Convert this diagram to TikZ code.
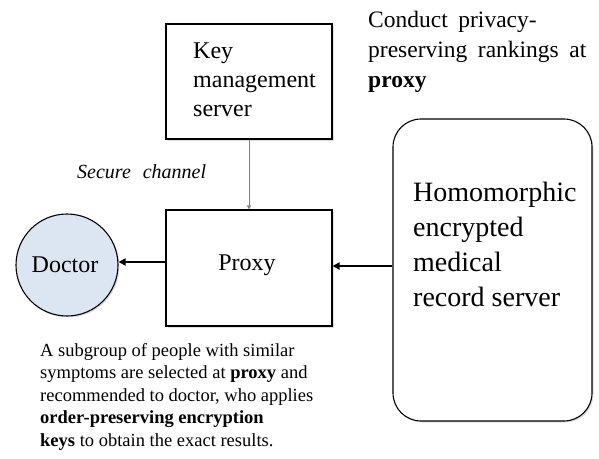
\documentclass[tikz,border=0pt]{standalone}
\usepackage{fontspec}
\setmainfont{Liberation Serif}
\usetikzlibrary{arrows.meta,shadows}
\definecolor{docfill}{HTML}{DCE6F2}
\newcommand{\widespaces}{\spaceskip=0.45em\relax}
\tikzset{
  box/.style={draw=black, line width=1.1pt, fill=white, drop shadow={shadow xshift=1.5pt, shadow yshift=-1.5pt, opacity=0.25}},
  txt/.style={inner sep=0pt, align=left, anchor=north west},
  thickarrow/.style={line width=1.8pt, -{Triangle[length=7pt,width=7pt]}},
  grayarrow/.style={draw=gray, line width=1pt, -{Triangle[length=4pt,width=4pt]}}
}
\begin{document}
\begin{tikzpicture}[x=1pt,y=-1pt]
\useasboundingbox (0,0) rectangle (599,458);
% boxes
\node[box, minimum width=166pt, minimum height=115pt, inner sep=0pt] (kms) at (249,81.5) {};
\node[box, minimum width=166pt, minimum height=116pt, inner sep=0pt] (proxy) at (249,268) {};
\node[box, rounded corners=28pt, minimum width=199pt, minimum height=302pt, inner sep=0pt] (hemr) at (492.5,270) {};
\node[box, circle, fill=docfill, minimum size=102pt, inner sep=0pt] (doctor) at (67,265) {};
% texts
\node[txt, font=\fontsize{24}{29}\selectfont] (kmstext) at (193,42.5) {Key\\management\\server};
\node[inner sep=0pt, font=\fontsize{24}{26}\selectfont] (proxytext) at (247,265) {Proxy};
\node[inner sep=0pt, font=\fontsize{24}{26}\selectfont] (doctortext) at (65,265) {Doctor};
\node[txt, font=\fontsize{28}{35}\selectfont] (hemrtext) at (413,182) {Homomorphic\\encrypted\\medical\\record server};
\node[txt, font=\fontsize{23.5}{30}\selectfont\widespaces] (conduct) at (368,11) {Conduct privacy-\\preserving rankings at\\\textbf{proxy}};
\node[inner sep=0pt, anchor=base west, font=\fontsize{20}{22}\selectfont\itshape] (secure) at (77,178) {Secure\hspace{0.6em}channel};
\node[txt, font=\fontsize{18.5}{22.5}\selectfont] (bottom) at (40,343) {A subgroup of people with similar\\symptoms are selected at \textbf{proxy} and\\recommended to doctor, who applies\\\textbf{order-preserving encryption}\\\textbf{keys} to obtain the exact results.};
% connectors
\draw[grayarrow] (kms.south) -- (proxy.north);
\draw[thickarrow] (proxy.west |- 0,262) -- (doctor.east |- 0,262);
\draw[thickarrow] (hemr.west |- 0,266) -- (proxy.east |- 0,266);
\end{tikzpicture}
\end{document}
